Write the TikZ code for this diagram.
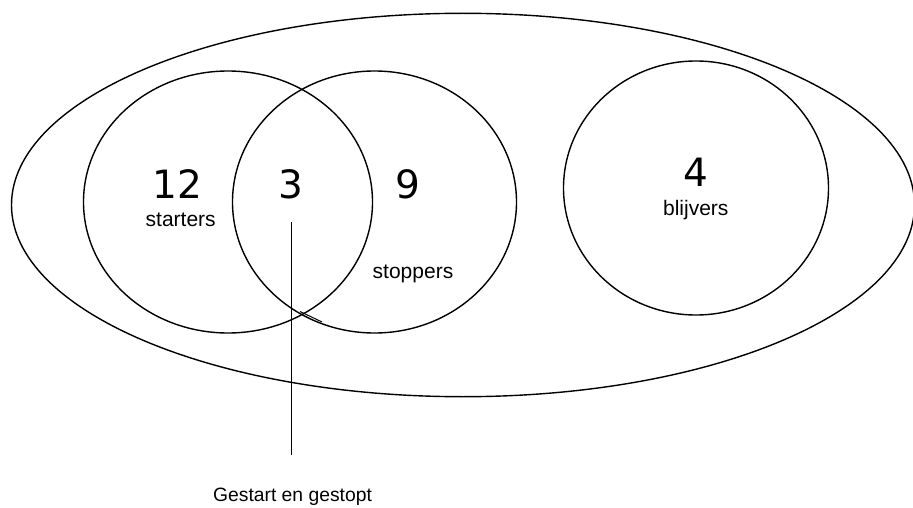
\documentclass[tikz,border=0pt]{standalone}
\usepackage{fontspec}
\setmainfont{Liberation Sans}
\newfontfamily\digitfont{DejaVu Sans}

\begin{document}
\begin{tikzpicture}[x=1pt,y=-1pt,line width=1.4pt,
    count/.style={font=\digitfont\fontsize{39}{39}\selectfont,inner sep=0pt},
    groupname/.style={font=\fontsize{21}{21}\selectfont,inner sep=0pt,anchor=base}]
    \useasboundingbox (0,0) rectangle (913,508);

    % whole group, then the sets
    \draw (463,205) ellipse [x radius=451.5, y radius=191.7];
    \draw (228,202) ellipse [x radius=144.5, y radius=131];
    \draw (374.5,202) ellipse [x radius=142, y radius=131];
    \draw (696,188) ellipse [x radius=132.5, y radius=127];
    \draw[line width=1pt] (300,311.5) -- (322,322);

\node[count] (twelve) at (177.5,184){12};
\node[groupname] (starters) at (180.7,226.7){starters};

\node[count] (three) at (290.7,184){3};

\node[count] (nine) at (408,184){9};
\node[groupname] (stoppers) at (413,278.3){stoppers};

\node[count] (four) at (695.8,172.5){4};
\node[groupname] (blijvers) at (695.8,215){blijvers};

\coordinate (pintop) at (291.7,222);
\coordinate (pinbot) at (291.7,455);
\draw (pintop) -- (pinbot);
\node[groupname,font=\fontsize{19.3}{19.3}\selectfont] (both) at (292.5,501.5){Gestart en gestopt};

\end{tikzpicture}
\end{document}
